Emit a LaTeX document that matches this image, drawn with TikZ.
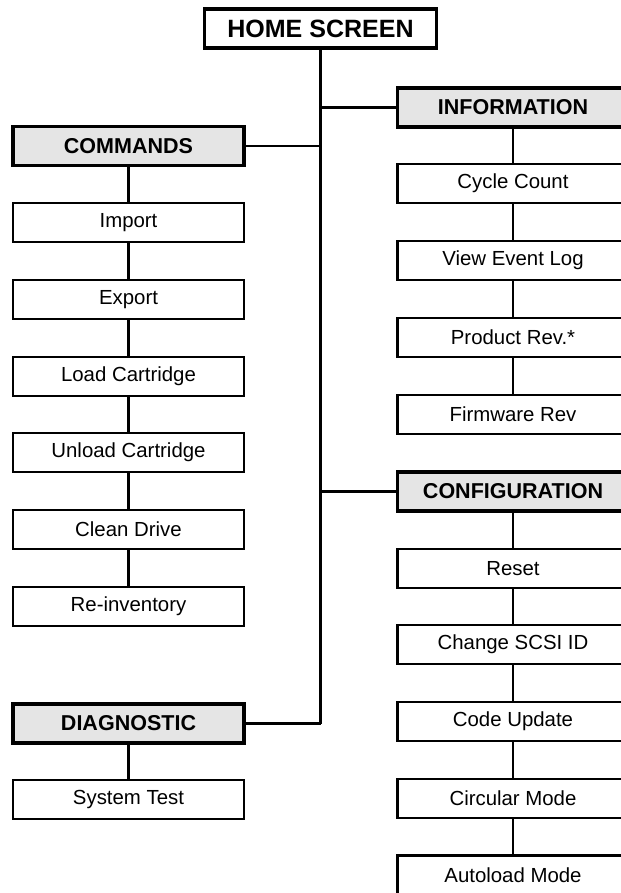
\documentclass[tikz,border=0pt]{standalone}
\usepackage{fontspec}
\setmainfont{Liberation Sans}
\usetikzlibrary{positioning}

\tikzset{
  menubox/.style={draw,line width=1.5pt,fill=white,minimum width=5.775cm,minimum height=0.975cm,inner sep=0pt,font=\fontsize{14.5}{16}\selectfont},
  headbox/.style={menubox,line width=2.3pt,fill=gray!20,font=\bfseries\fontsize{15.3}{17}\selectfont},
  homebox/.style={menubox,line width=2.3pt,minimum width=5.8cm,font=\bfseries\fontsize{17.8}{20}\selectfont},
}

\begin{document}
\begin{tikzpicture}[x=0.025cm,y=-0.025cm,line width=1.6pt]
   \useasboundingbox (0,0) rectangle (620,893);
   \node[homebox] (home) at (320.5,28.5) {HOME SCREEN};
   % left column
   \node[headbox] (cmd)    at (128.5,146)   {COMMANDS};
   \node[menubox] (imp)    at (128.5,222.5) {Import};
   \node[menubox] (exp)    at (128.5,299.5) {Export};
   \node[menubox] (load)   at (128.5,376.5) {Load Cartridge};
   \node[menubox] (unload) at (128.5,452.5) {Unload Cartridge};
   \node[menubox] (clean)  at (128.5,529.5) {Clean Drive};
   \node[menubox] (reinv)  at (128.5,606.5) {Re-inventory};
   \node[headbox] (diag)   at (128.5,723.5) {DIAGNOSTIC};
   \node[menubox] (systst) at (128.5,799.5) {System Test};
   % right column
   \node[headbox] (info)   at (513,107.5) {INFORMATION};
   \node[menubox] (cycle)  at (513,183.5) {Cycle Count};
   \node[menubox] (evlog)  at (513,260.5) {View Event Log};
   \node[menubox] (prodrv) at (513,337.5) {Product Rev.*};
   \node[menubox] (fwrev)  at (513,414.5) {Firmware Rev};
   \node[headbox] (config) at (513,491.5) {CONFIGURATION};
   \node[menubox] (reset)  at (513,568.5) {Reset};
   \node[menubox] (scsi)   at (513,644.5) {Change SCSI ID};
   \node[menubox] (codeup) at (513,721.5) {Code Update};
   \node[menubox] (circ)   at (513,798.5) {Circular Mode};
   \node[menubox] (autold) at (513,875)   {Autoload Mode};
   % trunk and branches
   \draw (home) -- (home |- diag);
   \draw (info) -- (info -| home);
   \draw (cmd) -- (cmd -| home);
   \draw (config) -- (config -| home);
   \draw (diag) -- (diag -| home);
   \draw (cmd) -- (imp) -- (exp) -- (load) -- (unload) -- (clean) -- (reinv);
   \draw (diag) -- (systst);
   \draw (info) -- (cycle) -- (evlog) -- (prodrv) -- (fwrev);
   \draw (config) -- (reset) -- (scsi) -- (codeup) -- (circ) -- (autold);
\end{tikzpicture}
\end{document}
